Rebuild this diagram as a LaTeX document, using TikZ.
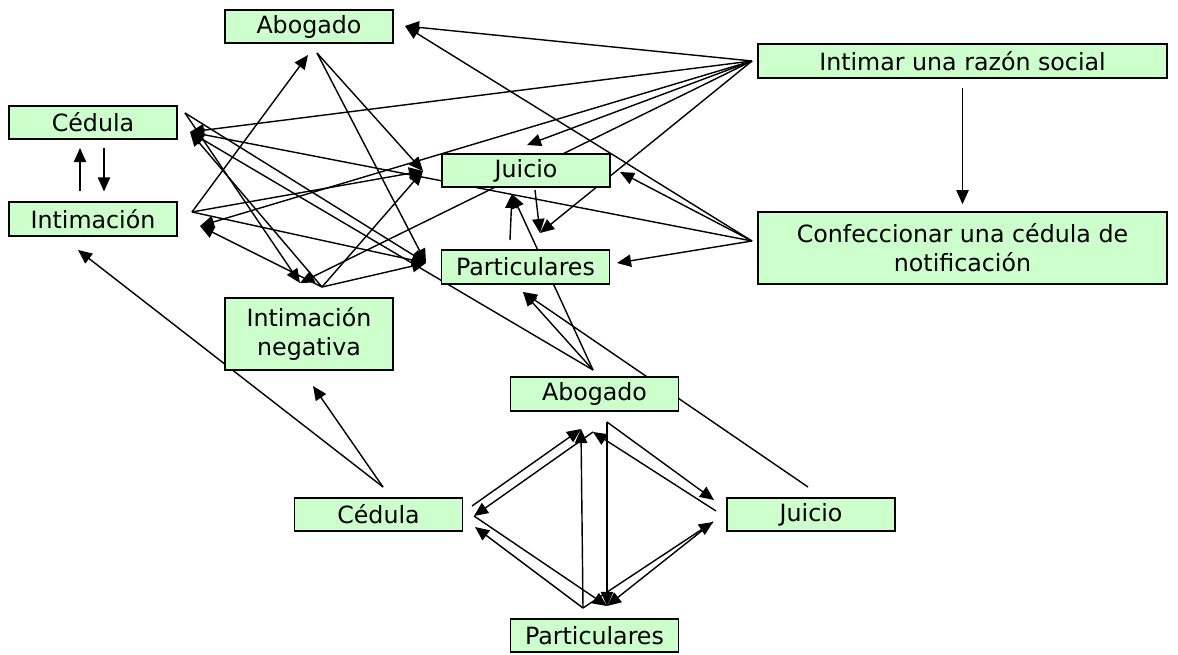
\documentclass[tikz,border=0pt]{standalone}
\usepackage{fontspec}
\setmainfont{DejaVu Sans}
\usetikzlibrary{arrows.meta,positioning,backgrounds}
\definecolor{verde}{HTML}{CCFFCC}

\begin{document}
\begin{tikzpicture}[x=0.02cm, y=-0.02cm,
    caja/.style={rectangle, draw, fill=verde, line width=0.9pt, minimum width=3.36cm, minimum height=0.67cm, inner sep=0pt, align=center, font=\fontsize{13.5}{16.5}\selectfont},
    flecha/.style={-{Triangle[length=8pt,width=7pt]}, line width=0.8pt}
]
    \useasboundingbox (0,0) rectangle (1178,655);

    % Cajas
    \node[caja] (aboA) at (309,26.5) {Abogado};
    \node[caja] (cedA) at (93,122.5) {Cédula};
    \node[caja] (intA) at (93,219) {Intimación};
    \node[caja] (juiA) at (526,170.5) {Juicio};
    \node[caja] (parA) at (525.5,267) {Particulares};
    \node[caja, minimum width=8.18cm] (razon) at (962.5,61) {Intimar una razón social};
    \node[caja, minimum width=8.18cm, minimum height=1.44cm] (cedula) at (962.5,248) {Confeccionar una cédula de\\notificación};
    \node[caja, minimum height=1.44cm] (neg) at (309,334) {Intimación\\negativa};
    \node[caja] (aboB) at (594.5,394) {Abogado};
    \node[caja] (cedB) at (378.5,514.5) {Cédula};
    \node[caja] (parB) at (594.5,635.5) {Particulares};
    \node[caja] (juiB) at (811,514.5) {Juicio};

    % Puntos de salida
    \coordinate (hRazon) at (752,61);
    \coordinate (hCedula) at (752,241);
    \coordinate (hAboA) at (317,53);
    \coordinate (hCedA) at (185,113);
    \coordinate (hIntA) at (192,212);
    \coordinate (hNeg) at (322,287);
    \coordinate (hJuiA) at (535,190);
    \coordinate (hParA) at (510,240);
    \coordinate (hAboB) at (593,370);
    \coordinate (hCedB) at (383,487);
    \coordinate (hJuiB) at (808,487);

    % Puntos de llegada
    \coordinate (tAboR) at (405,26);
    \coordinate (tAboD) at (308,55);
    \coordinate (tCed) at (190,132);
    \coordinate (tInt) at (200,226);
    \coordinate (tNeg) at (300,283);
    \coordinate (tJuiL) at (423,171);
    \coordinate (tJuiT) at (527,145);
    \coordinate (tJuiR) at (620,172);
    \coordinate (tJuiD) at (512,194);
    \coordinate (tParT) at (540,233);
    \coordinate (tParL) at (426,263);
    \coordinate (tParR) at (617,263);
    \coordinate (tParD) at (523,292);
    \coordinate (tNegD) at (313,386);
    \coordinate (tIntD) at (78,250);

    % Rombo de abajo
    \coordinate (aL) at (581,429);
    \coordinate (aM) at (593,432);
    \coordinate (aR) at (607,422);
    \coordinate (cR1) at (472,506);
    \coordinate (cR2) at (474,516);
    \coordinate (cR3) at (475,527);
    \coordinate (pL) at (583,608);
    \coordinate (pR) at (607,606);
    \coordinate (jL1) at (714,500);
    \coordinate (jL2) at (716,511);
    \coordinate (jL3) at (713,522);

    \begin{scope}[on background layer]
    % Flechas
    \foreach \t in {tAboR,tCed,tInt,tJuiT,tNeg,tParT}
        \draw[flecha] (hRazon) -- (\t);
    \foreach \t in {tAboR,tJuiR,tParR,tCed}
        \draw[flecha] (hCedula) -- (\t);
    \foreach \t in {tJuiL,tParL}
        \draw[flecha] (hAboA) -- (\t);
    \foreach \t in {tNeg,tParL}
        \draw[flecha] (hCedA) -- (\t);
    \foreach \t in {tAboD,tJuiL,tParL}
        \draw[flecha] (hIntA) -- (\t);
    \foreach \t in {tCed,tJuiL,tParL,tInt}
        \draw[flecha] (hNeg) -- (\t);
    \foreach \t in {tCed,tJuiD,tParD}
        \draw[flecha] (hAboB) -- (\t);
    \draw[flecha] (hJuiA) -- (tParT);
    \draw[flecha] (hParA) -- (tJuiD);
    \draw[flecha] (hJuiB) -- (tParD);
    \draw[flecha] (hCedB) -- (tIntD);
    \draw[flecha] (hCedB) -- (tNegD);

    \draw[flecha] ([yshift=-0.18cm]razon.south) -- ([yshift=0.14cm]cedula.north);
    \draw[flecha] ([xshift=-0.26cm,yshift=0.2cm]intA.north) -- ([xshift=-0.26cm,yshift=-0.16cm]cedA.south);
    \draw[flecha] ([xshift=0.22cm,yshift=-0.16cm]cedA.south) -- ([xshift=0.22cm,yshift=0.2cm]intA.north);

    \draw[flecha] (cR1) -- (aL);
    \draw[flecha] (aM) -- (cR2);
    \draw[flecha] (pL) -- (aL);
    \draw[flecha] (aR) -- (pR);
    \draw[flecha] (aR) -- (jL1);
    \draw[flecha] (jL2) -- (aM);
    \draw[flecha] (cR2) -- (pR);
    \draw[flecha] (pL) -- (cR3);
    \draw[flecha] (pL) -- (jL3);
    \draw[flecha] (jL3) -- (pR);
    \end{scope}

\end{tikzpicture}
\end{document}
